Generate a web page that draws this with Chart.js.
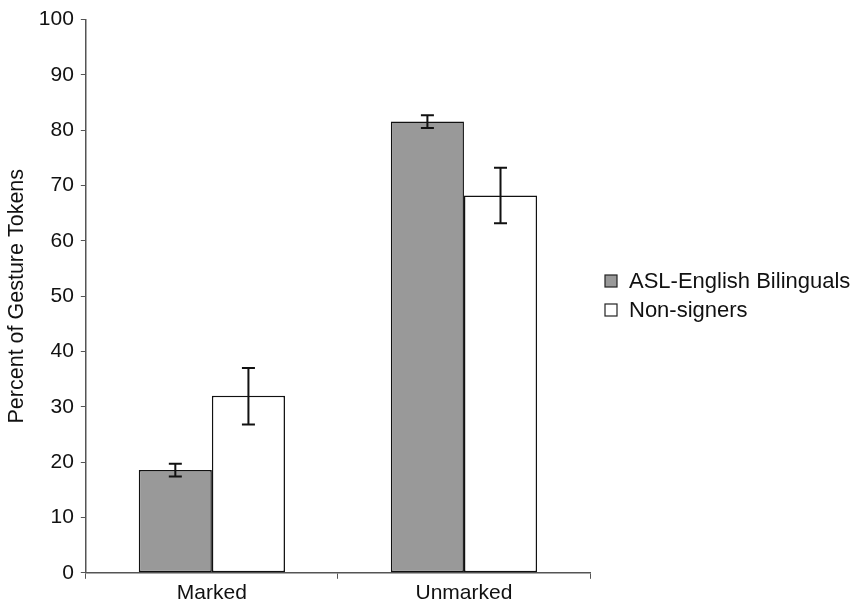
<!DOCTYPE html>
<html>
<head>
<meta charset="utf-8">
<script src="https://cdn.jsdelivr.net/npm/chart.js@4"></script>
<style>
  html, body { margin: 0; padding: 0; background: #fff; }
  #wrap { width: 856px; height: 608px; }
</style>
</head>
<body>
<div id="wrap"><canvas id="chart" width="856" height="608"></canvas></div>
<script>
const categories = ['Marked', 'Unmarked'];
const seriesNames = ['ASL-English Bilinguals', 'Non-signers'];
const bilingualValues = [18.6, 81.6];
const bilingualLow = [17.4, 80.4];
const bilingualHigh = [19.7, 82.7];
const nonSignerValues = [32.0, 68.2];
const nonSignerLow = [26.8, 63.2];
const nonSignerHigh = [37.0, 73.2];
const yTicks = [0, 10, 20, 30, 40, 50, 60, 70, 80, 90, 100];

const fontFamily = '"Liberation Sans", Arial, sans-serif';
const textColor = '#111';
const axisColor = '#555';

// error bars from the low/high arrays, placed through the y scale
const errorBars = {
    id: 'errorBars',
    afterDatasetsDraw(chart) {
        const ctx = chart.ctx;
        const yScale = chart.scales.y;
        ctx.save();
        ctx.strokeStyle = '#111';
        ctx.lineWidth = 2;
        chart.data.datasets.forEach((ds, i) => {
            const meta = chart.getDatasetMeta(i);
            meta.data.forEach((bar, j) => {
                const x = bar.x;
                const yLo = yScale.getPixelForValue(ds.errLow[j]);
                const yHi = yScale.getPixelForValue(ds.errHigh[j]);
                const cap = 6.5;
                ctx.beginPath();
                ctx.moveTo(x, yLo); ctx.lineTo(x, yHi);
                ctx.moveTo(x - cap, yLo); ctx.lineTo(x + cap, yLo);
                ctx.moveTo(x - cap, yHi); ctx.lineTo(x + cap, yHi);
                ctx.stroke();
            });
        });
        ctx.restore();
    }
};

// the built-in right legend is capped in width, so draw it here instead
const sideLegend = {
    id: 'sideLegend',
    afterDraw(chart) {
        const ctx = chart.ctx;
        const left = chart.chartArea.right + 15;
        const midY = 281;
        const rowGap = 29;
        ctx.save();
        ctx.font = `22px ${fontFamily}`;
        ctx.textBaseline = 'middle';
        chart.data.datasets.forEach((ds, i) => {
            const y = midY + i * rowGap;
            ctx.fillStyle = ds.backgroundColor;
            ctx.fillRect(left, y - 6, 12, 12);
            ctx.strokeStyle = '#222';
            ctx.lineWidth = 1.2;
            ctx.strokeRect(left, y - 6, 12, 12);
            ctx.fillStyle = textColor;
            ctx.fillText(ds.label, left + 24, y + 1);
        });
        ctx.restore();
    }
};

new Chart(document.getElementById('chart'), {
    type: 'bar',
    data: {
        labels: categories,
        datasets: [{
            label: seriesNames[0],
            data: bilingualValues,
            errLow: bilingualLow,
            errHigh: bilingualHigh,
            backgroundColor: '#999999',
            borderColor: '#111',
            borderWidth: 1.5,
            borderSkipped: false
        }, {
            label: seriesNames[1],
            data: nonSignerValues,
            errLow: nonSignerLow,
            errHigh: nonSignerHigh,
            backgroundColor: '#ffffff',
            borderColor: '#111',
            borderWidth: 1.5,
            borderSkipped: false
        }]
    },
    options: {
        responsive: false,
        animation: false,
        layout: { padding: { top: 8, right: 266, bottom: 0, left: 4 } },
        datasets: { bar: { categoryPercentage: 0.58, barPercentage: 1.0 } },
        plugins: {
            tooltip: { enabled: false },
            legend: { display: false }
        },
        scales: {
            x: {
                grid: { display: true, drawOnChartArea: false, drawTicks: true, tickLength: 6, color: axisColor, offset: true },
                border: { color: axisColor, width: 1.5 },
                ticks: { color: textColor, font: { family: fontFamily, size: 21 }, padding: 2 }
            },
            y: {
                min: 0,
                max: 100,
                afterBuildTicks(axis) { axis.ticks = yTicks.map(v => ({ value: v })); },
                grid: { display: true, drawOnChartArea: false, drawTicks: true, tickLength: 5, color: axisColor },
                border: { color: axisColor, width: 1.5 },
                ticks: { color: textColor, font: { family: fontFamily, size: 21 }, padding: 7 },
                title: {
                    display: true,
                    text: 'Percent of Gesture Tokens',
                    color: textColor,
                    font: { family: fontFamily, size: 21.5 },
                    padding: { top: 0, bottom: 2 }
                }
            }
        }
    },
    plugins: [errorBars, sideLegend]
});
</script>
</body>
</html>
